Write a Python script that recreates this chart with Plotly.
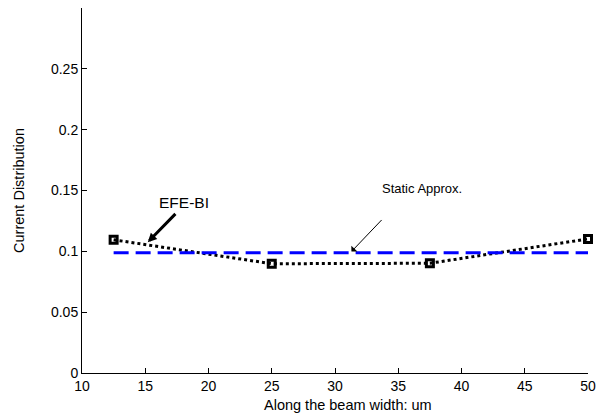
import plotly.graph_objects as go

x_efe = [12.5, 25, 37.5, 50]
y_efe = [0.1095, 0.0898, 0.0902, 0.1102]
x_static = [12.5, 50]
y_static = [0.0988, 0.0988]
x_ticks = [10, 15, 20, 25, 30, 35, 40, 45, 50]
y_ticks = [0, 0.05, 0.1, 0.15, 0.2, 0.25]
y_tick_text = ["0", "0.05", "0.1", "0.15", "0.2", "0.25"]

FAM = "Liberation Sans, Arial, sans-serif"
tick_font = dict(family=FAM, size=14, color="black")

fig = go.Figure()
fig.add_trace(go.Scatter(
    x=x_efe, y=y_efe, mode="lines+markers",
    line=dict(color="black", width=3, dash="3px,3px"),
    marker=dict(symbol="square-open", size=7, color="black", line=dict(width=3, color="black")),
    showlegend=False, cliponaxis=False))
fig.add_trace(go.Scatter(
    x=x_static, y=y_static, mode="lines",
    line=dict(color="#0000ff", width=3, dash="15px,7px"),
    showlegend=False))

fig.update_layout(
    width=604, height=414,
    margin=dict(l=82, r=16, t=8, b=41),
    paper_bgcolor="white", plot_bgcolor="white",
    font=tick_font,
    xaxis=dict(range=[10, 50], tickvals=x_ticks, ticks="inside", ticklen=5,
               tickcolor="black", showline=True, linecolor="black", linewidth=1,
               showgrid=False, zeroline=False, automargin=False, tickfont=tick_font),
    yaxis=dict(range=[0, 0.3], tickvals=y_ticks, ticktext=y_tick_text, ticks="inside", ticklen=5,
               tickcolor="black", showline=True, linecolor="black", linewidth=1,
               showgrid=False, zeroline=False, automargin=False, tickfont=tick_font,
               title=dict(text="Current Distribution", standoff=22,
                          font=dict(family=FAM, size=14.5, color="black"))),
    annotations=[
        dict(x=0.526, y=-0.088, xref="paper", yref="paper", text="Along the beam width: um",
             showarrow=False, xanchor="center", yanchor="middle",
             font=dict(family=FAM, size=14.5, color="black")),
        dict(x=15.2, y=0.1075, ax=17.5, ay=0.132, xref="x", yref="y", axref="x", ayref="y",
             text="", showarrow=True, arrowhead=2, arrowsize=0.6, arrowwidth=3, arrowcolor="black"),
        dict(x=18.06, y=0.1398, xref="x", yref="y", text="EFE-BI", showarrow=False,
             font=dict(family=FAM, size=15.5, color="black")),
        dict(x=31.3, y=0.0998, ax=33.8, ay=0.127, xref="x", yref="y", axref="x", ayref="y",
             text="", showarrow=True, arrowhead=1, arrowsize=1.4, arrowwidth=1, arrowcolor="black"),
        dict(x=36.9, y=0.1513, xref="x", yref="y", text="Static Approx.", showarrow=False,
             font=dict(family=FAM, size=13, color="black")),
    ],
)

fig.write_html("out.html", config={"displayModeBar": False},
               post_script="document.body.style.margin='0';")
